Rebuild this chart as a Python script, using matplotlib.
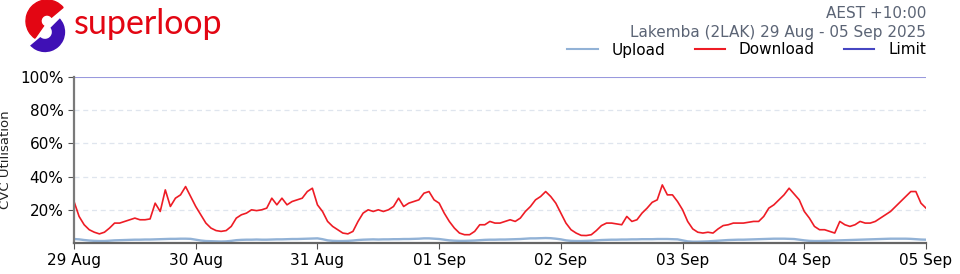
import matplotlib as mpl
mpl.use('agg')
import matplotlib.pyplot as plt
import matplotlib.dates as mdates
from matplotlib.patches import Wedge
from matplotlib.lines import Line2D
from matplotlib.ticker import FuncFormatter
import pandas as pd

# hourly CVC utilisation (%), 29 Aug 00:00 -> 05 Sep 00:00
download = [
    25, 16, 11, 8, 6.5, 5.5, 6.5, 9, 12, 12, 13, 14, 15, 14, 14, 14.5, 24, 19, 32, 22, 27, 29, 34, 28,   # 29 Aug
    22, 17, 12, 9, 7.5, 7, 7.5, 10, 15, 17, 18, 20, 19.5, 20, 21, 27, 23, 27, 23, 25, 26, 27, 31, 33,   # 30 Aug
    23, 19, 13, 10, 8, 6, 5.5, 7, 13, 18, 20, 19, 20, 19, 20, 22, 27, 22, 24, 25, 26, 30, 31, 26,      # 31 Aug
    24, 18, 13, 9, 6, 5, 5, 7, 11, 11, 13, 12, 12, 13, 14, 13, 15, 19, 22, 26, 28, 31, 28, 24,         # 01 Sep
    18, 12, 8, 6, 4.6, 4.5, 5, 7.5, 10.5, 12, 12, 11.5, 11, 16, 13, 14, 18, 21, 24.5, 26, 35, 29, 29, 25,  # 02 Sep
    20, 13, 8.5, 6.5, 6, 6.5, 6, 8.5, 10.5, 11, 12, 12, 12, 12.5, 13, 13, 16, 21, 23, 26, 29, 33, 29.5, 26,  # 03 Sep
    19, 15, 10, 8, 8, 7, 6, 13, 11, 10, 11, 13, 12, 12, 13, 15, 17, 19, 22, 25, 28, 31, 31, 24,        # 04 Sep
    21,                                                                                                  # 05 Sep
]
upload = [
    2.4, 2.2, 1.8, 1.5, 1.3, 1.2, 1.2, 1.4, 1.6, 1.7, 1.8, 1.9, 2.0, 2.0, 2.1, 2.1, 2.2, 2.3, 2.4, 2.5, 2.5, 2.6, 2.6, 2.5,
    2.0, 1.5, 1.2, 1.1, 1.0, 0.9, 1.0, 1.3, 1.7, 1.9, 2.0, 2.0, 2.1, 2.0, 2.0, 2.1, 2.2, 2.2, 2.3, 2.4, 2.4, 2.5, 2.6, 2.7,
    2.8, 2.3, 1.6, 1.3, 1.2, 1.2, 1.3, 1.5, 1.8, 2.0, 2.1, 2.2, 2.1, 2.2, 2.2, 2.3, 2.3, 2.4, 2.4, 2.5, 2.6, 2.8, 2.8, 2.6,
    2.4, 2.0, 1.6, 1.4, 1.3, 1.3, 1.4, 1.5, 1.7, 1.9, 2.0, 2.0, 2.1, 2.1, 2.2, 2.3, 2.4, 2.6, 2.8, 2.8, 2.9, 3.0, 2.9, 2.6,
    2.2, 1.6, 1.3, 1.2, 1.2, 1.3, 1.4, 1.6, 1.8, 1.9, 2.0, 2.0, 2.1, 2.1, 2.2, 2.2, 2.3, 2.3, 2.3, 2.4, 2.4, 2.4, 2.3, 2.2,
    1.6, 1.0, 0.8, 0.8, 0.9, 1.0, 1.2, 1.4, 1.6, 1.8, 1.9, 2.0, 2.0, 2.1, 2.2, 2.3, 2.4, 2.5, 2.6, 2.6, 2.6, 2.5, 2.4, 2.0,
    1.6, 1.3, 1.2, 1.2, 1.3, 1.4, 1.5, 1.6, 1.7, 1.8, 1.9, 2.0, 2.1, 2.2, 2.3, 2.4, 2.5, 2.6, 2.6, 2.6, 2.6, 2.5, 2.3, 2.1,
    2.0,
]
limit = 100
times = pd.date_range('2025-08-29', periods=len(download), freq='h')

day_ticks = pd.date_range('2025-08-29', '2025-09-05', freq='D')
y_ticks = [20, 40, 60, 80, 100]

RED = '#ee1c25'
UP = '#92b2d6'
LIM = '#4646c2'
SUB = '#5b6475'

fig = plt.figure(figsize=(9.6, 2.74), dpi=100, facecolor='w')
ax = fig.add_axes([0.0771, 0.1131, 0.8875, 0.6059])

ax.plot(times, upload, color=UP, linewidth=1.7)
ax.plot(times, download, color=RED, linewidth=1.2)
ax.axhline(limit, color=LIM, alpha=0.55, linewidth=1.5)

ax.set_xlim(times[0], times[-1])
ax.set_ylim(0, 100)
ax.set_yticks(y_ticks)
ax.yaxis.set_major_formatter(FuncFormatter(lambda v, p: '%d%%' % v))
ax.set_xticks(day_ticks)
ax.xaxis.set_major_formatter(mdates.DateFormatter('%d %b'))
ax.tick_params(labelsize=11, length=4, color='#555555')
for v in y_ticks[:-1]:
    ax.axhline(v, color='#dfe5ee', linewidth=0.9, linestyle=(0, (4, 3)), zorder=0)

for s in ['top', 'right']:
    ax.spines[s].set_visible(False)
ax.spines['left'].set_color('#7a7a7a')
ax.spines['left'].set_linewidth(1.6)
ax.spines['bottom'].set_color('#666666')
ax.spines['bottom'].set_linewidth(1.6)
ax.set_ylabel('CVC Utilisation', fontsize=9.5, color='#222222', labelpad=6)

# header text and legend
fig.text(0.9646, 1 - 14 / 274., 'AEST +10:00', ha='right', va='center', fontsize=11, color=SUB)
fig.text(0.9646, 1 - 32 / 274., 'Lakemba (2LAK) 29 Aug - 05 Sep 2025', ha='right', va='center',
         fontsize=11, color=SUB)
handles = [Line2D([], [], color=UP, lw=1.5), Line2D([], [], color=RED, lw=1.5), Line2D([], [], color=LIM, lw=1.5)]
fig.legend(handles, ['Upload', 'Download', 'Limit'], loc='center right', bbox_to_anchor=(0.9646, 1 - 50 / 274.),
           ncol=3, frameon=False, fontsize=11, handlelength=2.0, handletextpad=0.9, columnspacing=1.9,
           borderaxespad=0, borderpad=0)

# logo
lax = fig.add_axes([0, 0, 1, 1])
lax.set_xlim(0, 960)
lax.set_ylim(0, 274)
lax.axis('off')
lax.add_patch(Wedge((47, 274 - 21), 21, 40, 235, width=15, color='#e30613'))
lax.add_patch(Wedge((45, 274 - 32), 21, -140, 45, width=15, facecolor='#3f10b5', edgecolor='w', lw=1.2))
lax.text(74, 274 - 24, 'superloop', fontsize=24.5, color='#e30613', family='Lato', va='center', ha='left')

plt.savefig('out.png', dpi=100)
